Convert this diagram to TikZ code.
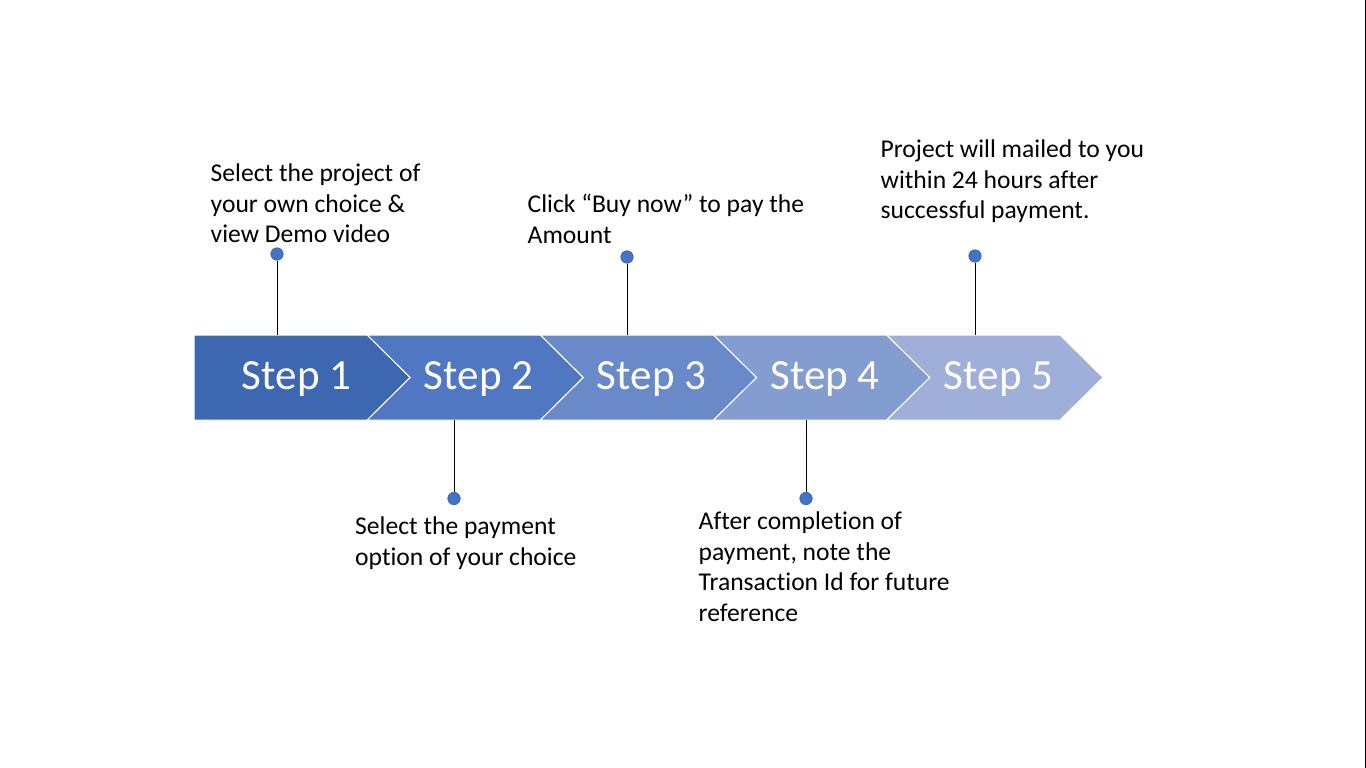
\documentclass[tikz,border=0pt]{standalone}
\usepackage{fontspec}
\setmainfont{Carlito}[RawFeature={-liga}]
\definecolor{cA}{HTML}{3E67B1}
\definecolor{cB}{HTML}{5077C1}
\definecolor{cC}{HTML}{6A89C8}
\definecolor{cD}{HTML}{849DD1}
\definecolor{cE}{HTML}{9FAFD9}
\definecolor{dotfill}{HTML}{4472C4}
\definecolor{dotline}{HTML}{3A62A8}
\tikzset{
  chev/.style={draw=white, line width=1pt},
  steplabel/.style={text=white, font=\fontsize{43}{50}\selectfont, inner sep=0pt, anchor=base},
  dotmark/.style={circle, fill=dotfill, draw=dotline, line width=0.6pt, minimum size=12.5pt, inner sep=0pt},
  leader/.style={draw=black, line width=1pt},
  note/.style={font=\fontsize{25.6}{30.4}\selectfont, align=left, anchor=north west, inner sep=0pt}
}
\begin{document}
\begin{tikzpicture}[x=1pt,y=-1pt]
\useasboundingbox (0,0) rectangle (1366,768);
\fill[white] (0,0) rectangle (1366,768);
\draw[black, line width=1.4pt] (1365.3,0) -- (1365.3,768);
% chevrons
\path[chev, fill=cA] (194,335) -- (367.2,335) -- (410.2,377.5) -- (367.2,420) -- (194,420) -- cycle;
\path[chev, fill=cB] (367.2,335) -- (540.4,335) -- (583.4,377.5) -- (540.4,420) -- (367.2,420) -- (410.2,377.5) -- cycle;
\path[chev, fill=cC] (540.4,335) -- (713.6,335) -- (756.6,377.5) -- (713.6,420) -- (540.4,420) -- (583.4,377.5) -- cycle;
\path[chev, fill=cD] (713.6,335) -- (886.8,335) -- (929.8,377.5) -- (886.8,420) -- (713.6,420) -- (756.6,377.5) -- cycle;
\path[chev, fill=cE] (886.8,335) -- (1060,335) -- (1103,377.5) -- (1060,420) -- (886.8,420) -- (929.8,377.5) -- cycle;
% step labels
\node[steplabel] (s1) at (296.5,389) {Step 1};
\node[steplabel] (s2) at (478.5,389) {Step 2};
\node[steplabel] (s3) at (651.5,389) {Step 3};
\node[steplabel] (s4) at (825,389) {Step 4};
\node[steplabel] (s5) at (998.5,389) {Step 5};
% anchor points on chevron edges
\coordinate (e1) at (277,335);
\coordinate (e2) at (454,420);
\coordinate (e3) at (627,335);
\coordinate (e4) at (806,420);
\coordinate (e5) at (975,335);
% dots
\node[dotmark] (d1) at (277,254) {};
\node[dotmark] (d2) at (454,498.5) {};
\node[dotmark] (d3) at (627,257) {};
\node[dotmark] (d4) at (806,498.5) {};
\node[dotmark] (d5) at (975,256) {};
\draw[leader] (d1) -- (e1);
\draw[leader] (d2) -- (e2);
\draw[leader] (d3) -- (e3);
\draw[leader] (d4) -- (e4);
\draw[leader] (d5) -- (e5);
% notes
\node[note] (t1) at (210.5,164) {Select the project of\\your own choice \&\\view Demo video};
\node[note] (t2) at (355,517) {Select the payment\\option of your choice};
\node[note] (t3) at (527.5,194) {Click “Buy now” to pay the\\Amount};
\node[note] (t4) at (698.5,512) {After completion of\\payment, note the\\Transaction Id for future\\reference};
\node[note] (t5) at (880.5,140) {Project will mailed to you\\within 24 hours after\\successful payment.};
\end{tikzpicture}
\end{document}
